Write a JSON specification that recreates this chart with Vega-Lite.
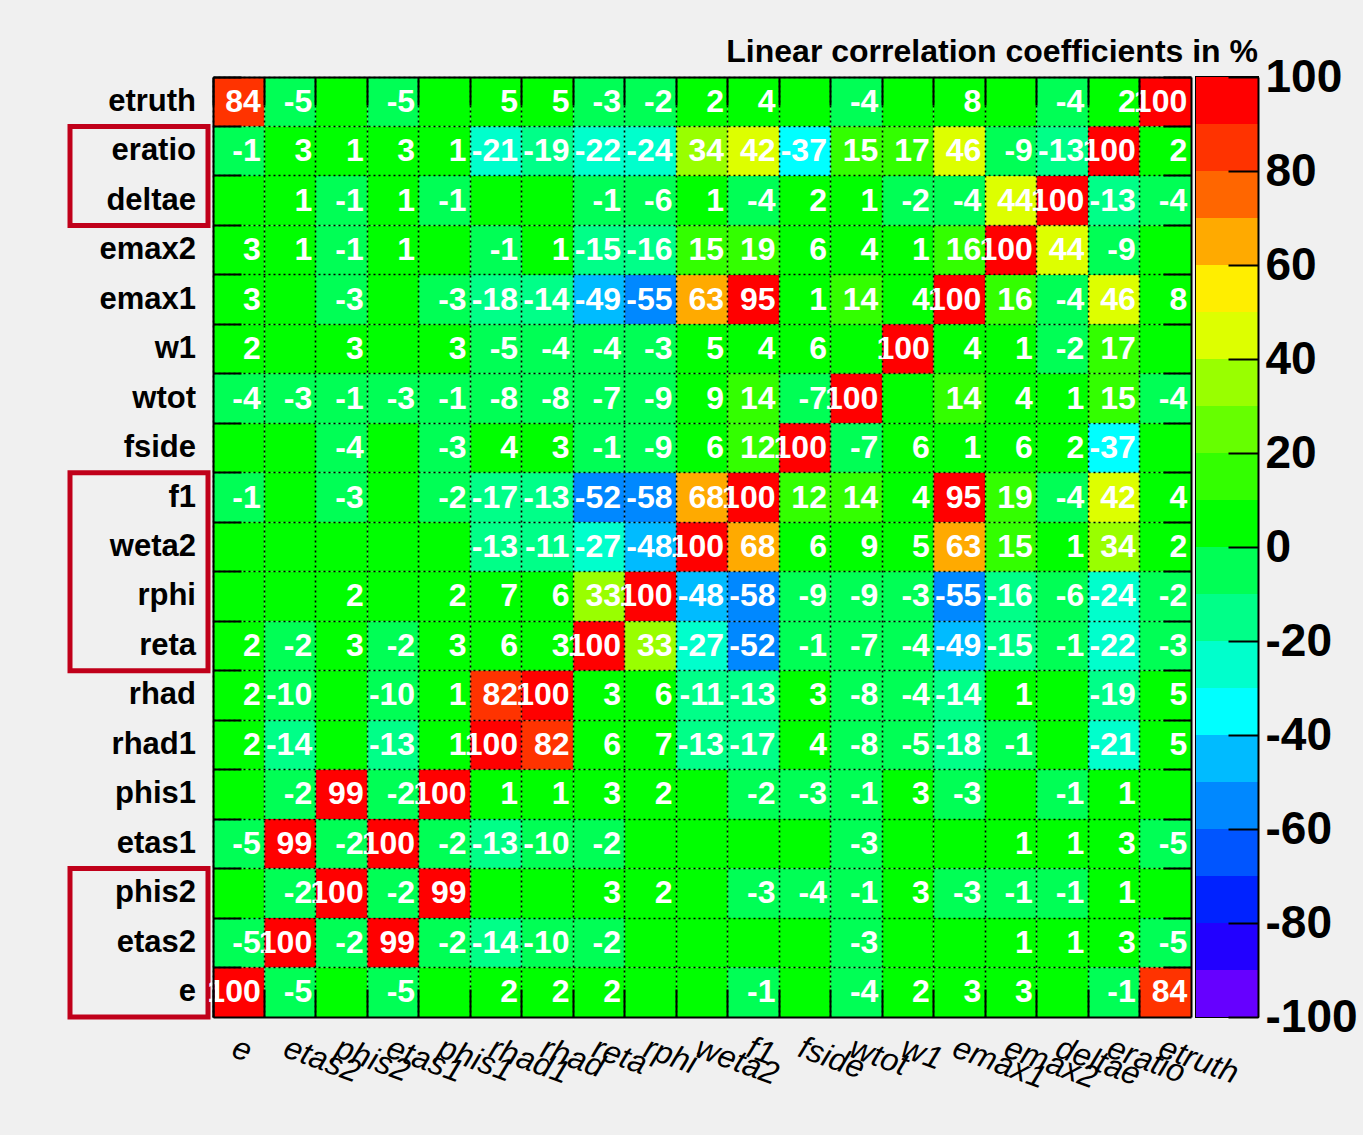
{
"$schema": "https://vega.github.io/schema/vega-lite/v6.json",
"background": "#f0f0f0",
"padding": {"left": 67, "top": 35, "right": 6, "bottom": 43},
"bounds": "flush",
"align": "none",
"spacing": 5,
"config": {"font": "Liberation Sans", "view": {"stroke": null}, "locale": {"number": {"decimal": ".", "thousands": ",", "grouping": [3], "currency": ["$", ""], "minus": "-"}}},
"datasets": {
"vars": [{"name":"etruth"},{"name":"eratio"},{"name":"deltae"},{"name":"emax2"},{"name":"emax1"},{"name":"w1"},{"name":"wtot"},{"name":"fside"},{"name":"f1"},{"name":"weta2"},{"name":"rphi"},{"name":"reta"},{"name":"rhad"},{"name":"rhad1"},{"name":"phis1"},{"name":"etas1"},{"name":"phis2"},{"name":"etas2"},{"name":"e"}],
"boxes": [{"top":"eratio","bottom":"deltae"},{"top":"f1","bottom":"reta"},{"top":"phis2","bottom":"e"}],
"bins": [{"lo":-100,"hi":-90},{"lo":-90,"hi":-80},{"lo":-80,"hi":-70},{"lo":-70,"hi":-60},{"lo":-60,"hi":-50},{"lo":-50,"hi":-40},{"lo":-40,"hi":-30},{"lo":-30,"hi":-20},{"lo":-20,"hi":-10},{"lo":-10,"hi":0},{"lo":0,"hi":10},{"lo":10,"hi":20},{"lo":20,"hi":30},{"lo":30,"hi":40},{"lo":40,"hi":50},{"lo":50,"hi":60},{"lo":60,"hi":70},{"lo":70,"hi":80},{"lo":80,"hi":90},{"lo":90,"hi":100}],
"corr": [
{"r":"etruth","c":"e","v":84},{"r":"etruth","c":"etas2","v":-5},{"r":"etruth","c":"phis2","v":0},{"r":"etruth","c":"etas1","v":-5},{"r":"etruth","c":"phis1","v":0},{"r":"etruth","c":"rhad1","v":5},{"r":"etruth","c":"rhad","v":5},{"r":"etruth","c":"reta","v":-3},{"r":"etruth","c":"rphi","v":-2},{"r":"etruth","c":"weta2","v":2},{"r":"etruth","c":"f1","v":4},{"r":"etruth","c":"fside","v":0},{"r":"etruth","c":"wtot","v":-4},{"r":"etruth","c":"w1","v":0},{"r":"etruth","c":"emax1","v":8},{"r":"etruth","c":"emax2","v":0},{"r":"etruth","c":"deltae","v":-4},{"r":"etruth","c":"eratio","v":2},{"r":"etruth","c":"etruth","v":100},
{"r":"eratio","c":"e","v":-1},{"r":"eratio","c":"etas2","v":3},{"r":"eratio","c":"phis2","v":1},{"r":"eratio","c":"etas1","v":3},{"r":"eratio","c":"phis1","v":1},{"r":"eratio","c":"rhad1","v":-21},{"r":"eratio","c":"rhad","v":-19},{"r":"eratio","c":"reta","v":-22},{"r":"eratio","c":"rphi","v":-24},{"r":"eratio","c":"weta2","v":34},{"r":"eratio","c":"f1","v":42},{"r":"eratio","c":"fside","v":-37},{"r":"eratio","c":"wtot","v":15},{"r":"eratio","c":"w1","v":17},{"r":"eratio","c":"emax1","v":46},{"r":"eratio","c":"emax2","v":-9},{"r":"eratio","c":"deltae","v":-13},{"r":"eratio","c":"eratio","v":100},{"r":"eratio","c":"etruth","v":2},
{"r":"deltae","c":"e","v":0},{"r":"deltae","c":"etas2","v":1},{"r":"deltae","c":"phis2","v":-1},{"r":"deltae","c":"etas1","v":1},{"r":"deltae","c":"phis1","v":-1},{"r":"deltae","c":"rhad1","v":0},{"r":"deltae","c":"rhad","v":0},{"r":"deltae","c":"reta","v":-1},{"r":"deltae","c":"rphi","v":-6},{"r":"deltae","c":"weta2","v":1},{"r":"deltae","c":"f1","v":-4},{"r":"deltae","c":"fside","v":2},{"r":"deltae","c":"wtot","v":1},{"r":"deltae","c":"w1","v":-2},{"r":"deltae","c":"emax1","v":-4},{"r":"deltae","c":"emax2","v":44},{"r":"deltae","c":"deltae","v":100},{"r":"deltae","c":"eratio","v":-13},{"r":"deltae","c":"etruth","v":-4},
{"r":"emax2","c":"e","v":3},{"r":"emax2","c":"etas2","v":1},{"r":"emax2","c":"phis2","v":-1},{"r":"emax2","c":"etas1","v":1},{"r":"emax2","c":"phis1","v":0},{"r":"emax2","c":"rhad1","v":-1},{"r":"emax2","c":"rhad","v":1},{"r":"emax2","c":"reta","v":-15},{"r":"emax2","c":"rphi","v":-16},{"r":"emax2","c":"weta2","v":15},{"r":"emax2","c":"f1","v":19},{"r":"emax2","c":"fside","v":6},{"r":"emax2","c":"wtot","v":4},{"r":"emax2","c":"w1","v":1},{"r":"emax2","c":"emax1","v":16},{"r":"emax2","c":"emax2","v":100},{"r":"emax2","c":"deltae","v":44},{"r":"emax2","c":"eratio","v":-9},{"r":"emax2","c":"etruth","v":0},
{"r":"emax1","c":"e","v":3},{"r":"emax1","c":"etas2","v":0},{"r":"emax1","c":"phis2","v":-3},{"r":"emax1","c":"etas1","v":0},{"r":"emax1","c":"phis1","v":-3},{"r":"emax1","c":"rhad1","v":-18},{"r":"emax1","c":"rhad","v":-14},{"r":"emax1","c":"reta","v":-49},{"r":"emax1","c":"rphi","v":-55},{"r":"emax1","c":"weta2","v":63},{"r":"emax1","c":"f1","v":95},{"r":"emax1","c":"fside","v":1},{"r":"emax1","c":"wtot","v":14},{"r":"emax1","c":"w1","v":4},{"r":"emax1","c":"emax1","v":100},{"r":"emax1","c":"emax2","v":16},{"r":"emax1","c":"deltae","v":-4},{"r":"emax1","c":"eratio","v":46},{"r":"emax1","c":"etruth","v":8},
{"r":"w1","c":"e","v":2},{"r":"w1","c":"etas2","v":0},{"r":"w1","c":"phis2","v":3},{"r":"w1","c":"etas1","v":0},{"r":"w1","c":"phis1","v":3},{"r":"w1","c":"rhad1","v":-5},{"r":"w1","c":"rhad","v":-4},{"r":"w1","c":"reta","v":-4},{"r":"w1","c":"rphi","v":-3},{"r":"w1","c":"weta2","v":5},{"r":"w1","c":"f1","v":4},{"r":"w1","c":"fside","v":6},{"r":"w1","c":"wtot","v":0},{"r":"w1","c":"w1","v":100},{"r":"w1","c":"emax1","v":4},{"r":"w1","c":"emax2","v":1},{"r":"w1","c":"deltae","v":-2},{"r":"w1","c":"eratio","v":17},{"r":"w1","c":"etruth","v":0},
{"r":"wtot","c":"e","v":-4},{"r":"wtot","c":"etas2","v":-3},{"r":"wtot","c":"phis2","v":-1},{"r":"wtot","c":"etas1","v":-3},{"r":"wtot","c":"phis1","v":-1},{"r":"wtot","c":"rhad1","v":-8},{"r":"wtot","c":"rhad","v":-8},{"r":"wtot","c":"reta","v":-7},{"r":"wtot","c":"rphi","v":-9},{"r":"wtot","c":"weta2","v":9},{"r":"wtot","c":"f1","v":14},{"r":"wtot","c":"fside","v":-7},{"r":"wtot","c":"wtot","v":100},{"r":"wtot","c":"w1","v":0},{"r":"wtot","c":"emax1","v":14},{"r":"wtot","c":"emax2","v":4},{"r":"wtot","c":"deltae","v":1},{"r":"wtot","c":"eratio","v":15},{"r":"wtot","c":"etruth","v":-4},
{"r":"fside","c":"e","v":0},{"r":"fside","c":"etas2","v":0},{"r":"fside","c":"phis2","v":-4},{"r":"fside","c":"etas1","v":0},{"r":"fside","c":"phis1","v":-3},{"r":"fside","c":"rhad1","v":4},{"r":"fside","c":"rhad","v":3},{"r":"fside","c":"reta","v":-1},{"r":"fside","c":"rphi","v":-9},{"r":"fside","c":"weta2","v":6},{"r":"fside","c":"f1","v":12},{"r":"fside","c":"fside","v":100},{"r":"fside","c":"wtot","v":-7},{"r":"fside","c":"w1","v":6},{"r":"fside","c":"emax1","v":1},{"r":"fside","c":"emax2","v":6},{"r":"fside","c":"deltae","v":2},{"r":"fside","c":"eratio","v":-37},{"r":"fside","c":"etruth","v":0},
{"r":"f1","c":"e","v":-1},{"r":"f1","c":"etas2","v":0},{"r":"f1","c":"phis2","v":-3},{"r":"f1","c":"etas1","v":0},{"r":"f1","c":"phis1","v":-2},{"r":"f1","c":"rhad1","v":-17},{"r":"f1","c":"rhad","v":-13},{"r":"f1","c":"reta","v":-52},{"r":"f1","c":"rphi","v":-58},{"r":"f1","c":"weta2","v":68},{"r":"f1","c":"f1","v":100},{"r":"f1","c":"fside","v":12},{"r":"f1","c":"wtot","v":14},{"r":"f1","c":"w1","v":4},{"r":"f1","c":"emax1","v":95},{"r":"f1","c":"emax2","v":19},{"r":"f1","c":"deltae","v":-4},{"r":"f1","c":"eratio","v":42},{"r":"f1","c":"etruth","v":4},
{"r":"weta2","c":"e","v":0},{"r":"weta2","c":"etas2","v":0},{"r":"weta2","c":"phis2","v":0},{"r":"weta2","c":"etas1","v":0},{"r":"weta2","c":"phis1","v":0},{"r":"weta2","c":"rhad1","v":-13},{"r":"weta2","c":"rhad","v":-11},{"r":"weta2","c":"reta","v":-27},{"r":"weta2","c":"rphi","v":-48},{"r":"weta2","c":"weta2","v":100},{"r":"weta2","c":"f1","v":68},{"r":"weta2","c":"fside","v":6},{"r":"weta2","c":"wtot","v":9},{"r":"weta2","c":"w1","v":5},{"r":"weta2","c":"emax1","v":63},{"r":"weta2","c":"emax2","v":15},{"r":"weta2","c":"deltae","v":1},{"r":"weta2","c":"eratio","v":34},{"r":"weta2","c":"etruth","v":2},
{"r":"rphi","c":"e","v":0},{"r":"rphi","c":"etas2","v":0},{"r":"rphi","c":"phis2","v":2},{"r":"rphi","c":"etas1","v":0},{"r":"rphi","c":"phis1","v":2},{"r":"rphi","c":"rhad1","v":7},{"r":"rphi","c":"rhad","v":6},{"r":"rphi","c":"reta","v":33},{"r":"rphi","c":"rphi","v":100},{"r":"rphi","c":"weta2","v":-48},{"r":"rphi","c":"f1","v":-58},{"r":"rphi","c":"fside","v":-9},{"r":"rphi","c":"wtot","v":-9},{"r":"rphi","c":"w1","v":-3},{"r":"rphi","c":"emax1","v":-55},{"r":"rphi","c":"emax2","v":-16},{"r":"rphi","c":"deltae","v":-6},{"r":"rphi","c":"eratio","v":-24},{"r":"rphi","c":"etruth","v":-2},
{"r":"reta","c":"e","v":2},{"r":"reta","c":"etas2","v":-2},{"r":"reta","c":"phis2","v":3},{"r":"reta","c":"etas1","v":-2},{"r":"reta","c":"phis1","v":3},{"r":"reta","c":"rhad1","v":6},{"r":"reta","c":"rhad","v":3},{"r":"reta","c":"reta","v":100},{"r":"reta","c":"rphi","v":33},{"r":"reta","c":"weta2","v":-27},{"r":"reta","c":"f1","v":-52},{"r":"reta","c":"fside","v":-1},{"r":"reta","c":"wtot","v":-7},{"r":"reta","c":"w1","v":-4},{"r":"reta","c":"emax1","v":-49},{"r":"reta","c":"emax2","v":-15},{"r":"reta","c":"deltae","v":-1},{"r":"reta","c":"eratio","v":-22},{"r":"reta","c":"etruth","v":-3},
{"r":"rhad","c":"e","v":2},{"r":"rhad","c":"etas2","v":-10},{"r":"rhad","c":"phis2","v":0},{"r":"rhad","c":"etas1","v":-10},{"r":"rhad","c":"phis1","v":1},{"r":"rhad","c":"rhad1","v":82},{"r":"rhad","c":"rhad","v":100},{"r":"rhad","c":"reta","v":3},{"r":"rhad","c":"rphi","v":6},{"r":"rhad","c":"weta2","v":-11},{"r":"rhad","c":"f1","v":-13},{"r":"rhad","c":"fside","v":3},{"r":"rhad","c":"wtot","v":-8},{"r":"rhad","c":"w1","v":-4},{"r":"rhad","c":"emax1","v":-14},{"r":"rhad","c":"emax2","v":1},{"r":"rhad","c":"deltae","v":0},{"r":"rhad","c":"eratio","v":-19},{"r":"rhad","c":"etruth","v":5},
{"r":"rhad1","c":"e","v":2},{"r":"rhad1","c":"etas2","v":-14},{"r":"rhad1","c":"phis2","v":0},{"r":"rhad1","c":"etas1","v":-13},{"r":"rhad1","c":"phis1","v":1},{"r":"rhad1","c":"rhad1","v":100},{"r":"rhad1","c":"rhad","v":82},{"r":"rhad1","c":"reta","v":6},{"r":"rhad1","c":"rphi","v":7},{"r":"rhad1","c":"weta2","v":-13},{"r":"rhad1","c":"f1","v":-17},{"r":"rhad1","c":"fside","v":4},{"r":"rhad1","c":"wtot","v":-8},{"r":"rhad1","c":"w1","v":-5},{"r":"rhad1","c":"emax1","v":-18},{"r":"rhad1","c":"emax2","v":-1},{"r":"rhad1","c":"deltae","v":0},{"r":"rhad1","c":"eratio","v":-21},{"r":"rhad1","c":"etruth","v":5},
{"r":"phis1","c":"e","v":0},{"r":"phis1","c":"etas2","v":-2},{"r":"phis1","c":"phis2","v":99},{"r":"phis1","c":"etas1","v":-2},{"r":"phis1","c":"phis1","v":100},{"r":"phis1","c":"rhad1","v":1},{"r":"phis1","c":"rhad","v":1},{"r":"phis1","c":"reta","v":3},{"r":"phis1","c":"rphi","v":2},{"r":"phis1","c":"weta2","v":0},{"r":"phis1","c":"f1","v":-2},{"r":"phis1","c":"fside","v":-3},{"r":"phis1","c":"wtot","v":-1},{"r":"phis1","c":"w1","v":3},{"r":"phis1","c":"emax1","v":-3},{"r":"phis1","c":"emax2","v":0},{"r":"phis1","c":"deltae","v":-1},{"r":"phis1","c":"eratio","v":1},{"r":"phis1","c":"etruth","v":0},
{"r":"etas1","c":"e","v":-5},{"r":"etas1","c":"etas2","v":99},{"r":"etas1","c":"phis2","v":-2},{"r":"etas1","c":"etas1","v":100},{"r":"etas1","c":"phis1","v":-2},{"r":"etas1","c":"rhad1","v":-13},{"r":"etas1","c":"rhad","v":-10},{"r":"etas1","c":"reta","v":-2},{"r":"etas1","c":"rphi","v":0},{"r":"etas1","c":"weta2","v":0},{"r":"etas1","c":"f1","v":0},{"r":"etas1","c":"fside","v":0},{"r":"etas1","c":"wtot","v":-3},{"r":"etas1","c":"w1","v":0},{"r":"etas1","c":"emax1","v":0},{"r":"etas1","c":"emax2","v":1},{"r":"etas1","c":"deltae","v":1},{"r":"etas1","c":"eratio","v":3},{"r":"etas1","c":"etruth","v":-5},
{"r":"phis2","c":"e","v":0},{"r":"phis2","c":"etas2","v":-2},{"r":"phis2","c":"phis2","v":100},{"r":"phis2","c":"etas1","v":-2},{"r":"phis2","c":"phis1","v":99},{"r":"phis2","c":"rhad1","v":0},{"r":"phis2","c":"rhad","v":0},{"r":"phis2","c":"reta","v":3},{"r":"phis2","c":"rphi","v":2},{"r":"phis2","c":"weta2","v":0},{"r":"phis2","c":"f1","v":-3},{"r":"phis2","c":"fside","v":-4},{"r":"phis2","c":"wtot","v":-1},{"r":"phis2","c":"w1","v":3},{"r":"phis2","c":"emax1","v":-3},{"r":"phis2","c":"emax2","v":-1},{"r":"phis2","c":"deltae","v":-1},{"r":"phis2","c":"eratio","v":1},{"r":"phis2","c":"etruth","v":0},
{"r":"etas2","c":"e","v":-5},{"r":"etas2","c":"etas2","v":100},{"r":"etas2","c":"phis2","v":-2},{"r":"etas2","c":"etas1","v":99},{"r":"etas2","c":"phis1","v":-2},{"r":"etas2","c":"rhad1","v":-14},{"r":"etas2","c":"rhad","v":-10},{"r":"etas2","c":"reta","v":-2},{"r":"etas2","c":"rphi","v":0},{"r":"etas2","c":"weta2","v":0},{"r":"etas2","c":"f1","v":0},{"r":"etas2","c":"fside","v":0},{"r":"etas2","c":"wtot","v":-3},{"r":"etas2","c":"w1","v":0},{"r":"etas2","c":"emax1","v":0},{"r":"etas2","c":"emax2","v":1},{"r":"etas2","c":"deltae","v":1},{"r":"etas2","c":"eratio","v":3},{"r":"etas2","c":"etruth","v":-5},
{"r":"e","c":"e","v":100},{"r":"e","c":"etas2","v":-5},{"r":"e","c":"phis2","v":0},{"r":"e","c":"etas1","v":-5},{"r":"e","c":"phis1","v":0},{"r":"e","c":"rhad1","v":2},{"r":"e","c":"rhad","v":2},{"r":"e","c":"reta","v":2},{"r":"e","c":"rphi","v":0},{"r":"e","c":"weta2","v":0},{"r":"e","c":"f1","v":-1},{"r":"e","c":"fside","v":0},{"r":"e","c":"wtot","v":-4},{"r":"e","c":"w1","v":2},{"r":"e","c":"emax1","v":3},{"r":"e","c":"emax2","v":3},{"r":"e","c":"deltae","v":0},{"r":"e","c":"eratio","v":-1},{"r":"e","c":"etruth","v":84}
]
},
"hconcat": [
{
"width": 138, "height": 940,
"layer": [
{
"data": {"name": "vars"},
"mark": {"type": "text", "align": "right", "baseline": "middle", "fontSize": 31, "fontWeight": "bold", "color": "black"},
"encoding": {
"y": {"field": "name", "type": "nominal", "scale": {"domain": ["etruth","eratio","deltae","emax2","emax1","w1","wtot","fside","f1","weta2","rphi","reta","rhad","rhad1","phis1","etas1","phis2","etas2","e"], "paddingInner": 0, "paddingOuter": 0}, "axis": null},
"x": {"datum": 126, "type": "quantitative", "scale": {"domain": [0, 138], "nice": false, "zero": false}, "axis": null},
"text": {"field": "name"}
}
},
{
"data": {"name": "boxes"},
"mark": {"type": "rect", "filled": false, "stroke": "#c0001a", "strokeWidth": 5},
"encoding": {
"y": {"field": "top", "type": "nominal", "bandPosition": 0, "axis": null},
"y2": {"field": "bottom", "bandPosition": 1},
"x": {"datum": 0, "type": "quantitative", "axis": null},
"x2": {"datum": 138}
}
}
]
},
{
"width": 978, "height": 940,
"data": {"name": "corr"},
"layer": [
{
"mark": {"type": "rect"},
"encoding": {
"x": {"field": "c", "type": "nominal", "sort": ["e","etas2","phis2","etas1","phis1","rhad1","rhad","reta","rphi","weta2","f1","fside","wtot","w1","emax1","emax2","deltae","eratio","etruth"], "scale": {"paddingInner": 0, "paddingOuter": 0},
"axis": {"orient": "bottom", "title": null, "bandPosition": 0, "labelOffset": 0, "labelAngle": 20, "labelAlign": "left", "labelBaseline": "top", "labelFontSize": 32, "labelFontStyle": "italic", "labelColor": "black", "labelPadding": 43, "labelOverlap": false, "ticks": true, "tickSize": -28, "tickColor": "black", "tickWidth": 2, "domain": true, "domainColor": "black", "domainWidth": 2, "grid": true, "gridColor": "black", "gridDash": [2, 3], "gridWidth": 1.6, "gridOpacity": 1, "zindex": 1}},
"y": {"field": "r", "type": "nominal", "sort": ["etruth","eratio","deltae","emax2","emax1","w1","wtot","fside","f1","weta2","rphi","reta","rhad","rhad1","phis1","etas1","phis2","etas2","e"], "scale": {"paddingInner": 0, "paddingOuter": 0},
"axis": {"orient": "left", "title": null, "bandPosition": 0, "labels": false, "ticks": true, "tickSize": -28, "tickColor": "black", "tickWidth": 2, "domain": true, "domainColor": "black", "domainWidth": 2, "grid": true, "gridColor": "black", "gridDash": [2, 3], "gridWidth": 1.6, "gridOpacity": 1, "zindex": 1}},
"color": {"field": "v", "type": "quantitative", "scale": {"type": "threshold", "domain": [-90,-80,-70,-60,-50,-40,-30,-20,-10,0,10,20,30,40,50,60,70,80,90], "range": ["#6600ff","#2200ff","#0022ff","#0055ff","#0088ff","#00bbff","#00ffff","#00ffcc","#00ff88","#00ff55","#00ff00","#33ff00","#66ff00","#99ff00","#ddff00","#ffee00","#ffaa00","#ff6600","#ff3300","#ff0000"]}, "legend": null}
}
},
{
"transform": [{"filter": "datum.v != 0"}],
"mark": {"type": "text", "align": "right", "baseline": "middle", "dx": 22, "fontSize": 32, "fontWeight": "bold", "color": "white"},
"encoding": {
"x": {"field": "c", "type": "nominal", "sort": ["e","etas2","phis2","etas1","phis1","rhad1","rhad","reta","rphi","weta2","f1","fside","wtot","w1","emax1","emax2","deltae","eratio","etruth"],
"axis": {"orient": "top", "title": null, "bandPosition": 0, "labels": false, "ticks": true, "tickSize": -28, "tickColor": "black", "tickWidth": 2, "domain": true, "domainColor": "black", "domainWidth": 2, "grid": false, "zindex": 1}},
"y": {"field": "r", "type": "nominal", "sort": ["etruth","eratio","deltae","emax2","emax1","w1","wtot","fside","f1","weta2","rphi","reta","rhad","rhad1","phis1","etas1","phis2","etas2","e"],
"axis": {"orient": "right", "title": null, "bandPosition": 0, "labels": false, "ticks": true, "tickSize": -28, "tickColor": "black", "tickWidth": 2, "domain": true, "domainColor": "black", "domainWidth": 2, "grid": false, "zindex": 1}},
"text": {"field": "v", "type": "quantitative", "format": "d"}
}
}
]
},
{
"width": 62, "height": 940,
"data": {"name": "bins"},
"view": {"stroke": "black", "strokeWidth": 2},
"title": {"text": "Linear correlation coefficients in %", "anchor": "end", "frame": "group", "fontSize": 32, "fontWeight": "bold", "color": "black", "offset": -47, "baseline": "bottom"},
"mark": {"type": "rect"},
"encoding": {
"y": {"field": "lo", "type": "quantitative", "scale": {"domain": [-100, 100], "nice": false, "zero": false},
"axis": {"orient": "right", "title": null, "values": [-100,-80,-60,-40,-20,0,20,40,60,80,100], "format": "d", "labelFontSize": 46, "labelFontWeight": "bold", "labelColor": "black", "labelPadding": 37, "ticks": true, "tickSize": -30, "tickColor": "black", "tickWidth": 2, "domain": true, "domainColor": "black", "domainWidth": 2, "grid": false, "zindex": 1, "labelOverlap": false}},
"y2": {"field": "hi"},
"color": {"field": "lo", "type": "quantitative", "scale": {"type": "threshold", "domain": [-90,-80,-70,-60,-50,-40,-30,-20,-10,0,10,20,30,40,50,60,70,80,90], "range": ["#6600ff","#2200ff","#0022ff","#0055ff","#0088ff","#00bbff","#00ffff","#00ffcc","#00ff88","#00ff55","#00ff00","#33ff00","#66ff00","#99ff00","#ddff00","#ffee00","#ffaa00","#ff6600","#ff3300","#ff0000"]}, "legend": null}
}
}
]
}
